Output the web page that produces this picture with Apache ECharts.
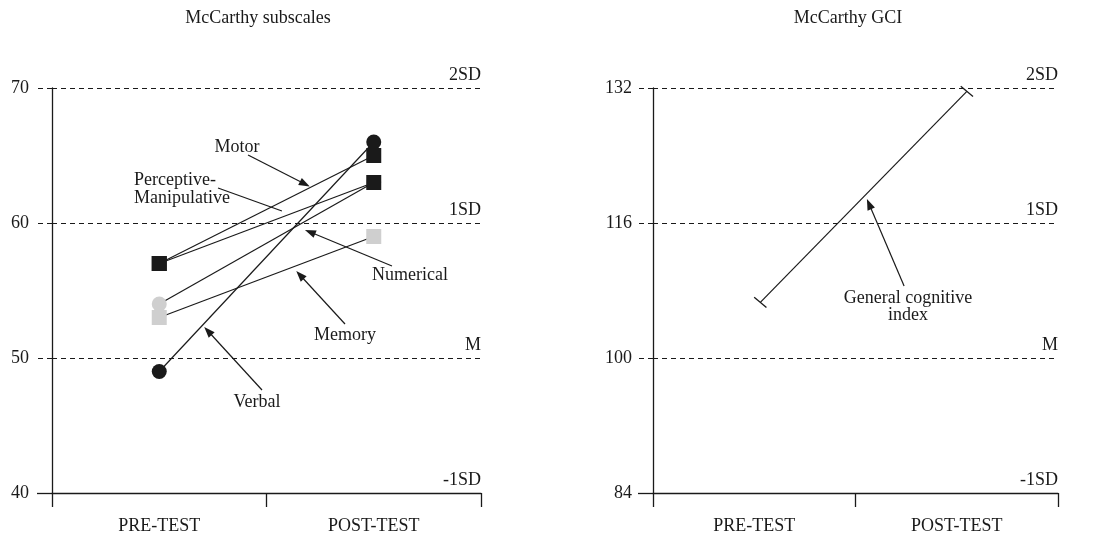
<!DOCTYPE html>
<html><head><meta charset="utf-8">
<script src="https://cdn.jsdelivr.net/npm/echarts@6/dist/echarts.min.js"></script>
<style>html,body{margin:0;padding:0;background:#fff}#c{width:1093px;height:537px}</style>
</head><body><div id="c"></div>
<script>
// ---------- data ----------
const categories = ['PRE-TEST', 'POST-TEST'];
const numerical = [54, 63];
const memory = [53, 59];
const verbal = [49, 66];
const motor = [57, 65];
const perceptive = [57, 63];
const gciX = [0.53, 1.55];
const gci = [106.6, 131.6];
const leftTicks = [40, 50, 60, 70];
const rightTicks = [84, 100, 116, 132];
const sdLabels = ['-1SD', 'M', '1SD', '2SD'];
const titles = ['McCarthy subscales', 'McCarthy GCI'];

// ---------- style ----------
const FONT = 'Liberation Serif';
const FS = 18;
const INK = '#1a1a1a';
const GRAY = '#cfcfcf';
const DASH = [5, 4];

const chart = echarts.init(document.getElementById('c'));

function xAxisFor(g) {
  return {
    type: 'value', gridIndex: g, min: 0, max: 2,
    axisLine: { show: true, onZero: false, lineStyle: { color: INK, width: 1.3 } },
    axisTick: { show: true, customValues: [0, 1, 2], length: 14, lineStyle: { color: INK, width: 1.3 } },
    axisLabel: {
      customValues: [0.5, 1.5], formatter: v => categories[Math.floor(v)] || '',
      margin: 24, fontSize: FS, fontFamily: FONT, color: INK
    },
    splitLine: { show: false }
  };
}
function yAxesFor(g, ticks, margin) {
  const min = ticks[0], max = ticks[ticks.length - 1], iv = ticks[1] - ticks[0];
  return [{
    type: 'value', gridIndex: g, min, max, interval: iv, position: 'left',
    axisLine: { show: true, lineStyle: { color: INK, width: 1.3 } },
    axisTick: { show: true, customValues: ticks.slice(1), length: 15, lineStyle: { color: INK, width: 1.2, type: DASH } },
    axisLabel: { margin, fontSize: FS, fontFamily: FONT, color: INK },
    splitLine: { show: true, lineStyle: { color: INK, width: 1.2, type: DASH } }
  }, {
    type: 'value', gridIndex: g, min, max, interval: iv, position: 'left',
    axisLine: { show: false },
    axisTick: { show: true, customValues: [min], length: 15, lineStyle: { color: INK, width: 1.3 } },
    axisLabel: { show: false }, splitLine: { show: false }
  }];
}
function sub(name, vals, symbol, color) {
  return {
    name, type: 'line', xAxisIndex: 0, yAxisIndex: 0,
    data: vals.map((v, i) => [i + 0.5, v]),
    symbol, symbolSize: 15, showAllSymbol: true,
    lineStyle: { color: INK, width: 1.2 }, itemStyle: { color },
    emphasis: { disabled: true }
  };
}
const txt = { fontSize: FS, fontFamily: FONT, color: INK };
function sdMarks(ticks) {
  return ticks.map((t, i) => ({
    yAxis: t, name: sdLabels[i], lineStyle: { color: 'rgba(0,0,0,0)', width: 0 },
    label: Object.assign({ show: true, position: 'insideEndTop', formatter: '{b}', distance: [0, 4] }, txt)
  }));
}
function arrow(a, b, head) {
  return [{ coord: a, symbol: 'none' },
          { coord: b, symbol: head ? 'triangle' : 'none', symbolSize: [8, 11] }];
}
function notes(xi, yi, items, lines, ticks) {
  return {
    type: 'scatter', xAxisIndex: xi, yAxisIndex: yi, silent: true,
    symbolSize: 1, itemStyle: { color: 'rgba(0,0,0,0)', opacity: 1 }, z: 5,
    data: items,
    label: Object.assign({ show: true, position: 'inside', formatter: p => p.data.value[2] }, txt),
    markLine: {
      silent: true, symbol: ['none', 'none'], animation: false,
      lineStyle: { color: INK, width: 1.2, type: 'solid' },
      label: { show: false },
      data: sdMarks(ticks).concat(lines)
    }
  };
}

const option = {
  animation: false,
  title: [
    { text: titles[0], left: 258, top: 9, padding: 0, textAlign: 'center', textStyle: { fontSize: FS, fontFamily: FONT, color: INK, fontWeight: 'normal' } },
    { text: titles[1], left: 848, top: 9, padding: 0, textAlign: 'center', textStyle: { fontSize: FS, fontFamily: FONT, color: INK, fontWeight: 'normal' } }
  ],
  grid: [
    { left: 52, top: 88, width: 429, height: 405 },
    { left: 653, top: 88, width: 405, height: 405 }
  ],
  xAxis: [xAxisFor(0), xAxisFor(1)],
  yAxis: yAxesFor(0, leftTicks, 23).concat(yAxesFor(1, rightTicks, 21)),
  series: [
    sub('Numerical', numerical, 'circle', GRAY),
    sub('Memory', memory, 'rect', GRAY),
    sub('Verbal', verbal, 'circle', INK),
    sub('Motor', motor, 'rect', INK),
    sub('Perceptive-Manipulative', perceptive, 'rect', INK),
    {
      name: 'General cognitive index', type: 'line', xAxisIndex: 1, yAxisIndex: 2,
      data: gciX.map((x, i) => [x, gci[i]]),
      symbol: 'rect', symbolSize: [16, 1.3], symbolRotate: -40, showAllSymbol: true,
      lineStyle: { color: INK, width: 1.2 }, itemStyle: { color: INK },
      emphasis: { disabled: true }
    },
    notes(0, 0, [
      { value: [0.862, 65.63, 'Motor'] },
      { value: [0.382, 62.52, 'Perceptive-\nManipulative'], label: { align: 'left', lineHeight: 18 } },
      { value: [1.669, 56.15, 'Numerical'] },
      { value: [1.366, 51.7, 'Memory'] },
      { value: [0.956, 46.74, 'Verbal'] }
    ], [
      arrow([0.914, 65.04], [1.179, 62.89], true),
      arrow([0.774, 62.59], [1.072, 60.89], false),
      arrow([1.585, 56.81], [1.203, 59.33], true),
      arrow([1.366, 52.52], [1.156, 56.15], true),
      arrow([0.979, 47.63], [0.727, 52.0], true)
    ], leftTicks),
    notes(1, 2, [
      { value: [1.259, 106.04, 'General cognitive\nindex'], label: { lineHeight: 17 } }
    ], [
      arrow([1.240, 108.53], [1.067, 118.25], true)
    ], rightTicks)
  ]
};
chart.setOption(option);
</script></body></html>
